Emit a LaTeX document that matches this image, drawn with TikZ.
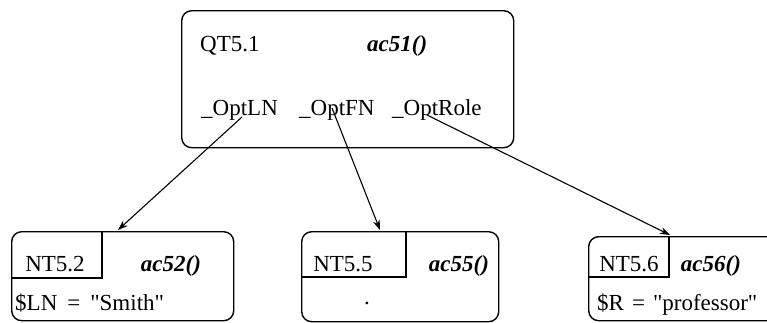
\documentclass[tikz,border=0pt]{standalone}
\usepackage{fontspec}
\setmainfont{Liberation Serif}[Ligatures=TeXOff]
\usetikzlibrary{arrows.meta}
\begin{document}
\begin{tikzpicture}[x=1pt,y=-1pt,
  box/.style={draw,line width=1.4pt,rounded corners=10pt,inner sep=0pt,anchor=north west},
  inner/.style={draw,line width=1.2pt},
  txt/.style={inner sep=0pt,font=\fontsize{23}{27}\selectfont},
  acname/.style={txt,font=\fontsize{23}{27}\selectfont\bfseries\itshape},
  arr/.style={draw,line width=1.1pt,-{Stealth[length=10pt,width=7pt]}}
]
\useasboundingbox (0,0) rectangle (767,322);
\clip (0,0) rectangle (767,322);
% top box
\node[box,minimum width=332pt,minimum height=137pt] (qt) at (181,10) {};
\node[txt,anchor=base west] (qtl) at (200,51) {QT5.1};
\node[acname,anchor=base west] (ac51) at (367,51) {ac51()};
\node[txt,anchor=base west] (optln) at (201,115) {\_OptLN};
\node[txt,anchor=base west] (optfn) at (299,115) {\_OptFN};
\node[txt,anchor=base west] (optrole) at (392,115) {\_OptRole};
% bottom boxes
\node[box,minimum width=222pt,minimum height=89pt] (b1) at (11,231) {};
\node[box,minimum width=197pt,minimum height=90pt] (b2) at (301,231) {};
\node[box,minimum width=220pt,minimum height=84pt] (b3) at (588,236) {};
\draw[inner] ([xshift=91pt]b1.north west) |- ([yshift=-47pt]b1.north west);
\draw[inner] ([xshift=105pt]b2.north west) |- ([yshift=-46pt]b2.north west);
\draw[inner] ([xshift=81pt]b3.north west) |- ([yshift=-41pt]b3.north west);
\node[txt,anchor=base] (nt2) at (55,271) {NT5.2};
\node[acname,anchor=base] (ac52) at (171,271) {ac52()};
\node[txt,anchor=base west] (v2) at (15,310) {\$LN\hspace{10pt}=\hspace{10pt}"Smith"};
\node[txt,anchor=base] (nt5) at (343,271) {NT5.5};
\node[acname,anchor=base] (ac55) at (459,271) {ac55()};
\node[txt,anchor=base] (dot5) at (367,304) {.};
\node[txt,anchor=base] (nt6) at (629,271) {NT5.6};
\node[acname,anchor=base] (ac56) at (711,271) {ac56()};
\node[txt,anchor=base west] (v6) at (597,310) {\$R\hspace{8pt}=\hspace{8pt}"professor"};
% connectors
\coordinate (s1) at (242,117);
\coordinate (e1) at (118,230);
\coordinate (s2) at (332,108);
\coordinate (e2) at (380,230);
\coordinate (s3) at (427,115);
\coordinate (e3) at (670,235);
\draw[arr] (s1) -- (e1);
\draw[arr] (s2) -- (e2);
\draw[arr] (s3) -- (e3);
\end{tikzpicture}
\end{document}
